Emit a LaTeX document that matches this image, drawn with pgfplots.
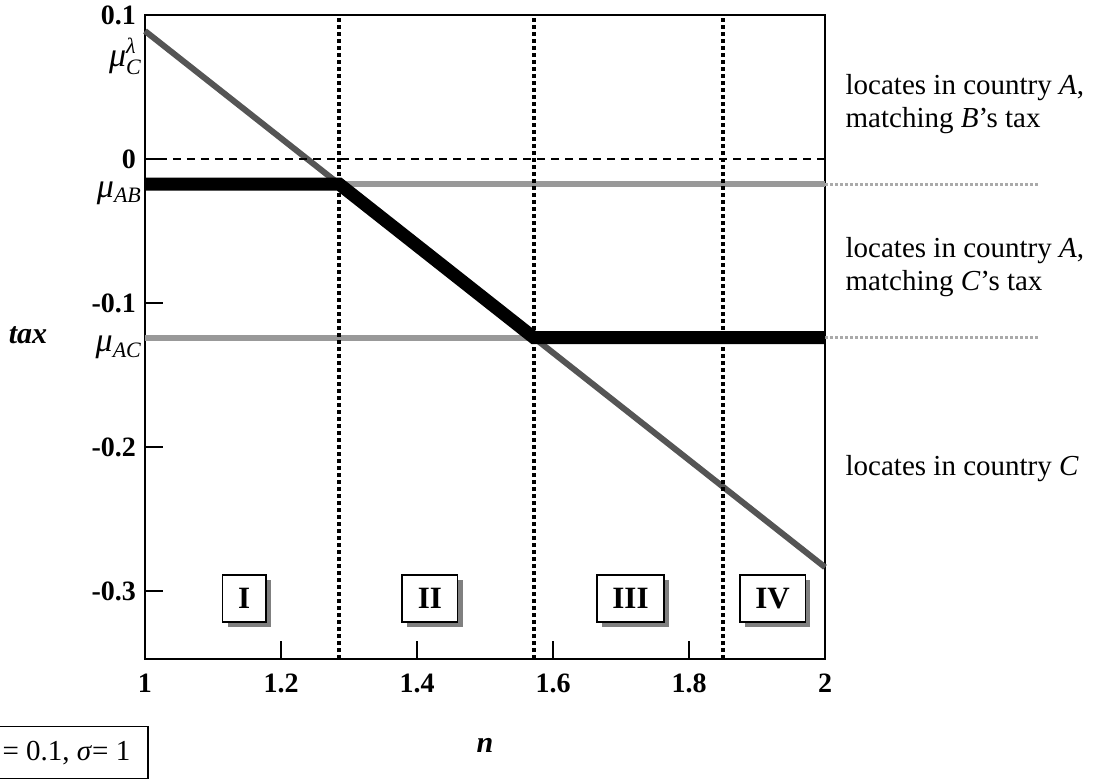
\documentclass[border=0pt]{standalone}
\usepackage{fontspec}
\setmainfont{Liberation Serif}
\usepackage{pgfplots}
\pgfplotsset{compat=1.18}
\usetikzlibrary{shadows}

\definecolor{cline}{HTML}{555555}
\definecolor{lgray}{HTML}{999999}
\definecolor{dgray}{HTML}{AAAAAA}

\newcommand\sub[1]{\mbox{\fontsize{11}{12}\selectfont\itshape #1}}

\tikzset{
    roman/.style={draw=black, line width=0.8pt, fill=white,
        font=\fontsize{15.5}{16}\selectfont\bfseries,
        inner xsep=7.8pt, minimum height=23.5pt,
        drop shadow={shadow xshift=2.5pt, shadow yshift=-2.5pt, fill=gray, opacity=1}},
    side/.style={anchor=west, align=left, font=\fontsize{14.5}{16.5}\selectfont},
}

\begin{document}
\begin{tikzpicture}
\begin{axis}[
    at={(0,0)}, anchor=south west,
    scale only axis,
    width=340pt, height=322pt,
    xmin=1, xmax=2, ymin=-0.347, ymax=0.1,
    clip=false,
    axis line style={line width=1pt},
    tick style={line width=1pt, black},
    major tick length=9pt,
    tick align=inside,
    xtick pos=lower, ytick pos=lower,
    xtick={1,1.2,1.4,1.6,1.8,2},
    xticklabels={1,1.2,1.4,1.6,1.8,2},
    ytick={-0.3,-0.2,-0.1,0,0.1},
    yticklabels={-0.3,-0.2,-0.1,0,0.1},
    xticklabel style={font=\fontsize{14}{15}\selectfont\bfseries, yshift=-4pt},
    yticklabel style={font=\fontsize{14}{15}\selectfont\bfseries, xshift=-1pt},
]
% line of C's tax
\addplot[cline, line width=3pt] coordinates {(1,0.0889) (2,-0.2833)};
% mu_AB and mu_AC levels
\addplot[lgray, line width=3pt] coordinates {(1,-0.0174) (2,-0.0174)};
\addplot[lgray, line width=3pt] coordinates {(1,-0.124) (2,-0.124)};
\addplot[dgray, line width=1.5pt, dash pattern=on 1.5pt off 1pt] coordinates {(2,-0.0174) (2.316,-0.0174)};
\addplot[dgray, line width=1.5pt, dash pattern=on 1.5pt off 1pt] coordinates {(2,-0.124) (2.316,-0.124)};
% equilibrium tax
\addplot[black, line width=6.5pt, line join=miter] coordinates {(1,-0.0174) (1.2856,-0.0174) (1.572,-0.124) (2,-0.124)};
% zero line
\addplot[black, line width=1pt, dash pattern=on 4pt off 3pt] coordinates {(1,0) (2,0)};
% region borders
\addplot[black, line width=2pt, dash pattern=on 2pt off 1.5pt] coordinates {(1.2856,-0.347) (1.2856,0.1)};
\addplot[black, line width=2pt, dash pattern=on 2pt off 1.5pt] coordinates {(1.572,-0.347) (1.572,0.1)};
\addplot[black, line width=2pt, dash pattern=on 2pt off 1.5pt] coordinates {(1.85,-0.347) (1.85,0.1)};

\node[roman] at (axis cs:1.146,-0.305) {I};
\node[roman] at (axis cs:1.419,-0.305) {II};
\node[roman] at (axis cs:1.714,-0.305) {III};
\node[roman] at (axis cs:1.923,-0.305) {IV};

\node[anchor=east, inner sep=0pt, font=\fontsize{17}{18}\selectfont] at (axis cs:0.996,0.071) {\textit{μ}$^{\sub{λ}}_{\sub{C}}$};
\node[anchor=east, inner sep=0pt, font=\fontsize{17}{18}\selectfont] at (axis cs:0.996,-0.024) {\textit{μ}$_{\sub{AB}}$};
\node[anchor=east, inner sep=0pt, font=\fontsize{17}{18}\selectfont] at (axis cs:0.996,-0.131) {\textit{μ}$_{\sub{AC}}$};

\node[side] at (axis cs:2.02,0.038) {locates in country \textit{A},\\matching \textit{B}'s tax};
\node[side] at (axis cs:2.02,-0.075) {locates in country \textit{A},\\matching \textit{C}'s tax};
\node[side] at (axis cs:2.02,-0.2145) {locates in country \textit{C}};

\node[font=\fontsize{15}{16}\selectfont\bfseries\itshape] at (axis cs:0.828,-0.122) {tax};
\node[font=\fontsize{15}{16}\selectfont\bfseries\itshape] at (axis cs:1.5,-0.407) {n};

\node[draw=black, line width=0.8pt, anchor=east, inner xsep=9pt, minimum height=26pt,
      font=\fontsize{14.5}{15}\selectfont] at (axis cs:1.006,-0.412) {\textit{λ} = 0.1, \textit{σ}= 1};
\end{axis}
\pgfresetboundingbox
\path[use as bounding box] (-72.5pt,-61pt) rectangle (478pt,329.5pt);
\end{tikzpicture}
\end{document}
